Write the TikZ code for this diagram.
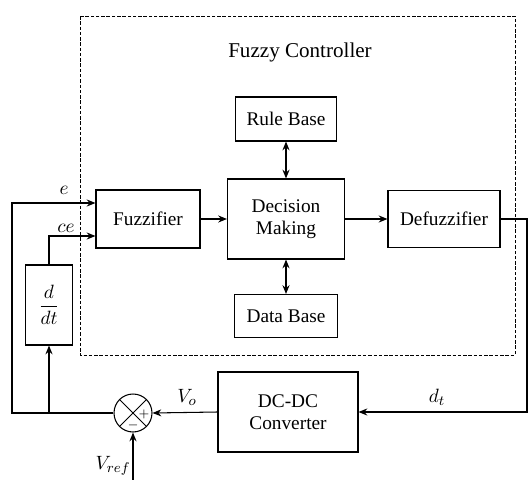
\documentclass[tikz,border=0pt]{standalone}
\usepackage{amsmath}
\usepackage{fontspec}
\setmainfont{Liberation Serif}
\usetikzlibrary{arrows.meta,positioning,calc}

\tikzset{
  blk/.style={draw, line width=0.6pt, align=center, font=\fontsize{11}{12.5}\selectfont},
  lbl/.style={font=\fontsize{11}{12}\selectfont},
  sumnode/.style={draw, circle, line width=0.6pt, minimum size=0.76cm, inner sep=0pt,
    path picture={\draw[line width=0.5pt] (path picture bounding box.north west) -- (path picture bounding box.south east)
      (path picture bounding box.north east) -- (path picture bounding box.south west);}},
}

\begin{document}
\begin{tikzpicture}[>={Stealth[length=5pt,width=4pt]}, x=0.02cm, y=-0.02cm, line width=0.6pt]

  \useasboundingbox (0,0) rectangle (528,480);

  % Fuzzy controller frame
  \draw[dash pattern=on 2pt off 1pt, line width=0.5pt] (80,16) rectangle (515,355);
  \node[font=\fontsize{12}{14}\selectfont] (title) at (300,52) {Fuzzy Controller};

  % Define nodes
  \node[blk, minimum width=2.02cm, minimum height=0.88cm] (rule) at (286,119) {Rule Base};
  \node[blk, minimum width=2.34cm, minimum height=1.6cm] (dec) at (286,219) {Decision\\Making};
  \node[blk, minimum width=2.06cm, minimum height=0.86cm] (data) at (286,316) {Data Base};
  \node[blk, minimum width=2.08cm, minimum height=1.16cm] (fuzz) at (148,219) {Fuzzifier};
  \node[blk, minimum width=2.24cm, minimum height=1.14cm] (defuzz) at (444,219) {Defuzzifier};
  \node[blk, minimum width=0.94cm, minimum height=1.6cm] (ddt) at (49,305) {$\dfrac{d}{dt}$};
  \node[blk, minimum width=2.8cm, minimum height=1.6cm] (dcdc) at (288,412) {DC-DC\\Converter};
  \node[sumnode] (sum) at (133,413) {};
  \node[font=\scriptsize] (plus) at (144,414) {$+$};
  \node[font=\scriptsize] (minus) at (133,425) {$-$};

  \coordinate (eL) at (12,203);
  \coordinate (ceL) at (49,236);
  \coordinate (rR) at (527,219);
  \coordinate (vr) at (133,480);

  % Draw arrows
  \draw[->] (fuzz) -- (dec);
  \draw[->] (dec) -- (defuzz);
  \draw[<->] (rule) -- (dec);
  \draw[<->] (data) -- (dec);
  \draw[->] (defuzz.east) -- (rR) |- (dcdc.east);
  \draw[->] (dcdc.west) -- (sum.east);
  \draw[->] (vr) -- (sum.south);
  \draw[->] (sum.west) -| (eL) -- (eL -| fuzz.west);
  \draw[->] (sum.west -| ddt.south) -- (ddt.south);
  \draw[->] (ddt.north) -- (ceL) -- (ceL -| fuzz.west);

  % Signal labels
  \node[lbl] (e) at (64,190) {$e$};
  \node[lbl] (ce) at (66,228) {$ce$};
  \node[lbl] (vo) at (187,397) {$V_o$};
  \node[lbl] (dt) at (437,397) {$d_t$};
  \node[lbl] (vref) at (113,466) {$V_{ref}$};
\end{tikzpicture}
\end{document}
